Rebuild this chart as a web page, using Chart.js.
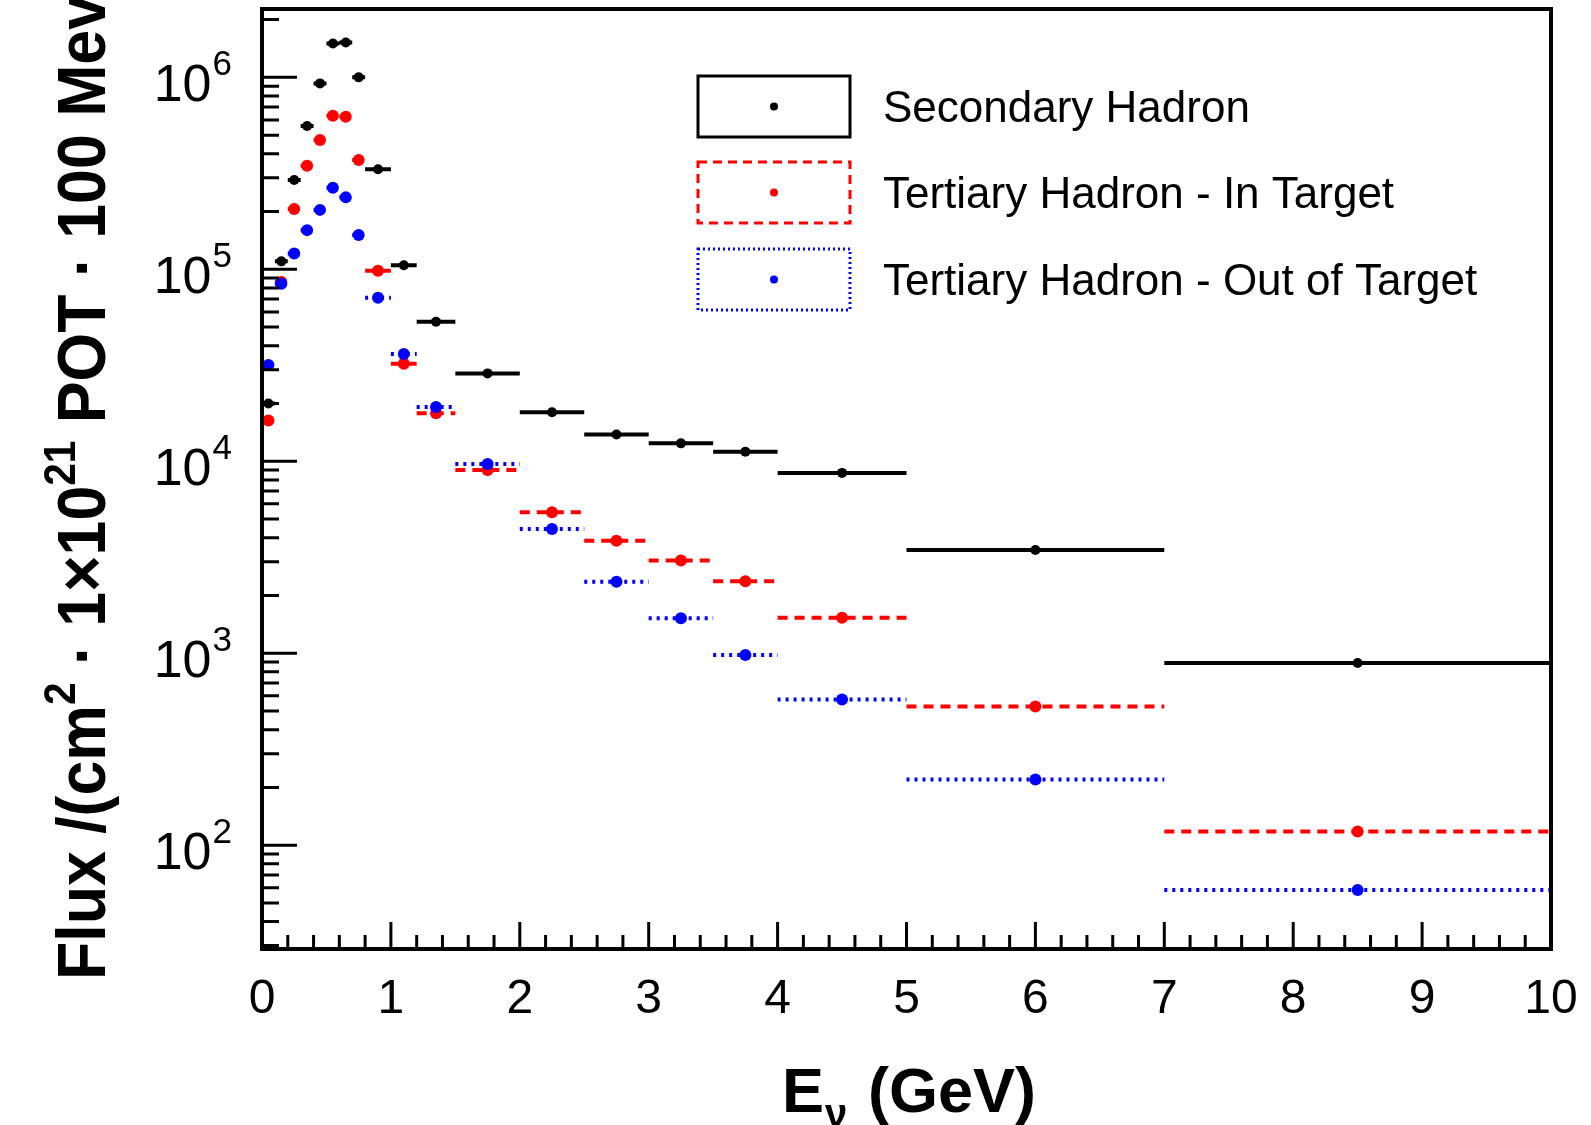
<!DOCTYPE html>
<html>
<head>
<meta charset="UTF-8">
<title>Neutrino flux by hadron origin</title>
<script src="https://cdn.jsdelivr.net/npm/chart.js"></script>
<style>
  html, body { margin: 0; padding: 0; background: #fff; }
</style>
</head>
<body>
<canvas id="flux-chart" width="1591" height="1125"></canvas>
<script>
// bin edges (GeV)
const binEdges = [0, 0.1, 0.2, 0.3, 0.4, 0.5, 0.6, 0.7, 0.8, 1.0, 1.2, 1.5, 2.0, 2.5, 3.0, 3.5, 4.0, 5.0, 7.0, 10.0];

// flux per bin
const secondaryHadron   = [20000, 110000, 292000, 558000, 930000, 1500000, 1520000, 1000000, 332000, 105000, 53300, 28700, 18000, 13800, 12400, 11200, 8700, 3450, 890];
const tertiaryInTarget  = [16300, 86000, 206000, 346000, 471000, 630000, 623000, 371000, 98400, 32200, 17800, 9000, 5420, 3860, 3040, 2370, 1530, 528, 118];
const tertiaryOutTarget = [31700, 84000, 121000, 160000, 204000, 266000, 237000, 151000, 71100, 36200, 19200, 9680, 4440, 2360, 1520, 978, 574, 220, 58.5];

const seriesLabels = ['Secondary Hadron', 'Tertiary Hadron - In Target', 'Tertiary Hadron - Out of Target'];
const yDecades = [2, 3, 4, 5, 6];

const FONT = "'Liberation Sans', Arial, Helvetica, sans-serif";

function binBars(values) {
    const pts = [];
    values.forEach((v, i) => {
        pts.push({x: binEdges[i], y: v}, {x: binEdges[i + 1], y: v}, {x: binEdges[i + 1], y: null});
    });
    return pts;
}
function binCenters(values) {
    return values.map((v, i) => ({x: (binEdges[i] + binEdges[i + 1]) / 2, y: v}));
}

function pointSet(label, values, color, r) {
    return {
        label: label, data: binCenters(values), showLine: false,
        pointRadius: r, pointBackgroundColor: color, pointBorderWidth: 0, pointHoverRadius: r
    };
}
function barSet(label, values, color, width, dash) {
    return {
        label: label, data: binBars(values), borderColor: color, borderWidth: width,
        borderDash: dash, pointRadius: 0, spanGaps: false, fill: false, tension: 0
    };
}

// ROOT-like frame, inward ticks, y labels with exponents, titles and legend
const rootStyle = {
    id: 'rootStyle',
    afterDraw(chart) {
        const ctx = chart.ctx;
        const area = chart.chartArea;
        const xs = chart.scales.x, ys = chart.scales.y;
        ctx.save();
        ctx.strokeStyle = '#000';
        ctx.fillStyle = '#000';

        // ticks
        ctx.lineWidth = 3;
        ctx.beginPath();
        for (let v = 0; v <= 10.001; v += 0.2) {
            const px = xs.getPixelForValue(v);
            const major = Math.abs(v - Math.round(v)) < 1e-6;
            ctx.moveTo(px, area.bottom);
            ctx.lineTo(px, area.bottom - (major ? 27 : 14));
        }
        for (let n = 1; n <= 6; n++) {
            for (let k = 1; k <= 9; k++) {
                const val = k * Math.pow(10, n);
                if (val < ys.min || val > ys.max) continue;
                const py = ys.getPixelForValue(val);
                ctx.moveTo(area.left, py);
                ctx.lineTo(area.left + (k === 1 ? 35 : 17), py);
            }
        }
        ctx.stroke();

        // frame
        ctx.lineWidth = 4;
        ctx.strokeRect(area.left, area.top, area.right - area.left, area.bottom - area.top);

        // y tick labels 10^n
        yDecades.forEach(n => {
            const py = ys.getPixelForValue(Math.pow(10, n));
            ctx.textAlign = 'right';
            ctx.textBaseline = 'alphabetic';
            ctx.font = '35px ' + FONT;
            const exp = String(n);
            const ew = ctx.measureText(exp).width;
            ctx.fillText(exp, 232, py - 2);
            ctx.font = '52px ' + FONT;
            ctx.fillText('10', 232 - ew - 1, py + 24);
        });

        // x title
        ctx.textAlign = 'left';
        ctx.font = 'bold 63px ' + FONT;
        ctx.fillText('E', 782, 1112);
        const eW = ctx.measureText('E').width;
        ctx.font = 'bold 40px ' + FONT;
        ctx.fillText('\u03bd', 782 + eW + 1, 1127);
        ctx.font = 'bold 63px ' + FONT;
        ctx.fillText('(GeV)', 868, 1112);

        // y title (rotated, condensed)
        const parts = [
            ['Flux /(cm', false], ['2', true], [' \u00b7 1\u00d710', false], ['21', true],
            [' POT \u00b7 100 Mev)', false]
        ];
        const bigFont = 'bold 68px ' + FONT, supFont = 'bold 44px ' + FONT;
        let total = 0;
        parts.forEach(([t, sup], i) => {
            ctx.font = sup ? supFont : bigFont;
            total += ctx.measureText(i === parts.length - 1 ? t.slice(0, -1) : t).width;
        });
        const sx = 985 / total;
        ctx.translate(105, 980);
        ctx.rotate(-Math.PI / 2);
        ctx.scale(sx, 1);
        let cx = 0;
        parts.forEach(([t, sup]) => {
            ctx.font = sup ? supFont : bigFont;
            ctx.fillText(t, cx, sup ? -30 : 0);
            cx += ctx.measureText(t).width;
        });
        ctx.restore();

        // legend
        ctx.save();
        const entries = [
            {color: '#000000', dash: [], top: 76},
            {color: '#ff0000', dash: [9, 6], top: 162},
            {color: '#0000ff', dash: [2, 3], top: 249}
        ];
        entries.forEach((e, i) => {
            ctx.strokeStyle = e.color;
            ctx.fillStyle = e.color;
            ctx.lineWidth = 3;
            ctx.setLineDash(e.dash);
            ctx.strokeRect(698, e.top, 152, 61);
            ctx.setLineDash([]);
            ctx.beginPath();
            ctx.arc(774, e.top + 30.5, 4, 0, Math.PI * 2);
            ctx.fill();
            ctx.fillStyle = '#000';
            ctx.font = '44px ' + FONT;
            ctx.textAlign = 'left';
            ctx.textBaseline = 'alphabetic';
            ctx.fillText(seriesLabels[i], 883, e.top + 46);
        });
        ctx.restore();
    }
};

const ctx = document.getElementById('flux-chart').getContext('2d');
new Chart(ctx, {
    type: 'line',
    data: {
        datasets: [
            pointSet(seriesLabels[2], tertiaryOutTarget, '#0000ff', 6),
            barSet(seriesLabels[2], tertiaryOutTarget, '#0000ff', 4, [3, 5]),
            pointSet(seriesLabels[1], tertiaryInTarget, '#ff0000', 6),
            barSet(seriesLabels[1], tertiaryInTarget, '#ff0000', 4, [10, 7]),
            pointSet(seriesLabels[0], secondaryHadron, '#000000', 5),
            barSet(seriesLabels[0], secondaryHadron, '#000000', 4, [])
        ]
    },
    options: {
        responsive: false,
        devicePixelRatio: 1,
        animation: false,
        events: [],
        layout: { padding: { top: 9, right: 40, left: 0, bottom: 0 } },
        plugins: { legend: { display: false }, tooltip: { enabled: false } },
        scales: {
            x: {
                type: 'linear', min: 0, max: 10,
                afterFit: s => { s.height = 176; s.paddingLeft = 0; s.paddingRight = 0; },
                grid: { display: false, drawTicks: false },
                border: { display: false },
                ticks: {
                    stepSize: 1, autoSkip: false, maxRotation: 0, padding: 22,
                    color: '#000', font: { family: FONT, size: 48 }
                }
            },
            y: {
                type: 'logarithmic', min: 28.8, max: 2.27e6,
                afterFit: s => { s.width = 262; s.paddingTop = 0; s.paddingBottom = 0; },
                grid: { display: false, drawTicks: false },
                border: { display: false },
                ticks: { display: false }
            }
        }
    },
    plugins: [rootStyle]
});
</script>
</body>
</html>
